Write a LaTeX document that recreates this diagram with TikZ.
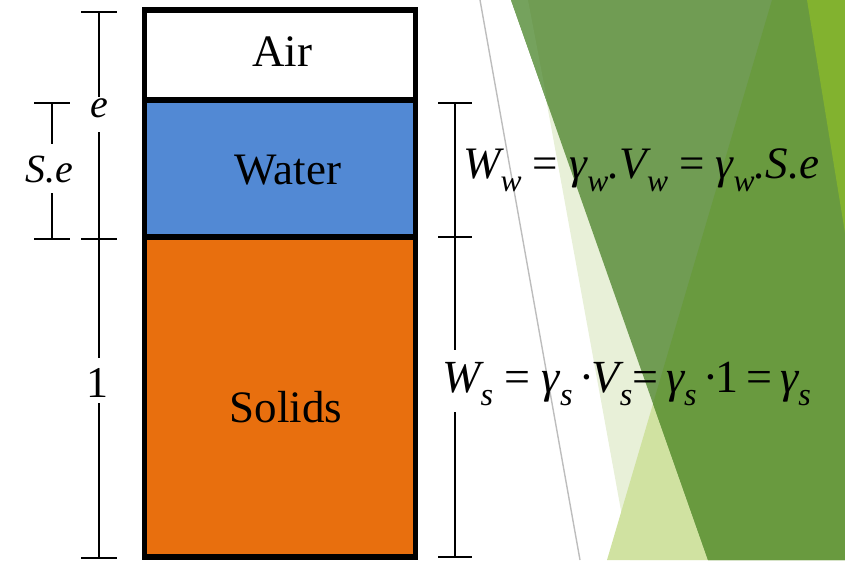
\documentclass[tikz,border=0pt]{standalone}
\usepackage{fontspec}
\usepackage{graphicx}
\setmainfont{Liberation Serif}
\definecolor{waterclr}{HTML}{5289D4}
\definecolor{solidclr}{HTML}{E86F0E}
\definecolor{paleA}{HTML}{E8F0D8}
\definecolor{paleB}{HTML}{D0E2A1}
\definecolor{gmain}{HTML}{709C53}
\definecolor{gdark}{HTML}{699A3F}
\definecolor{glight}{HTML}{75A25D}
\definecolor{gbright}{HTML}{82B22F}
\definecolor{grayline}{HTML}{BDBDBD}
\newcommand{\subx}[1]{\raisebox{-0.3em}{\scalebox{0.7}{\itshape #1}}}
\begin{document}
\begin{tikzpicture}[x=1pt,y=-1pt,
  dimline/.style={line width=2pt},
  boxline/.style={line width=5.5pt},
  boxtext/.style={inner sep=0pt,anchor=base,font=\fontsize{45}{45}\selectfont},
  dimtext/.style={inner sep=0pt,anchor=base,font=\fontsize{40}{40}\selectfont\itshape},
  formula/.style={inner sep=0pt,anchor=base west}]
\useasboundingbox (0,0) rectangle (845,560);
% background facets
\fill[paleA] (528,0) -- (845,0) -- (845,560) -- (630,560) -- cycle;
\fill[paleB] (772,0) -- (845,0) -- (845,560) -- (607,560) -- cycle;
\fill[gmain] (511,0) -- (845,0) -- (845,560) -- (708,560) -- cycle;
\fill[gdark] (772,0) -- (845,0) -- (845,560) -- (708,560) -- (653,403.6) -- cycle;
\fill[glight] (511,0) -- (528,0) -- (548,105) -- cycle;
\fill[gbright] (807,0) -- (845,0) -- (845,233) -- cycle;
\draw[grayline, line width=1.4pt] (480,0) -- (580,560);
% phase box
\fill[white] (144.5,10) rectangle (415.5,100);
\fill[waterclr] (144.5,100) rectangle (415.5,237);
\fill[solidclr] (144.5,237) rectangle (415.5,557);
\draw[boxline] (144.5,10) rectangle (415.5,557);
\draw[boxline] (144.5,100) -- (415.5,100);
\draw[boxline] (144.5,237) -- (415.5,237);
\node[boxtext] (air) at (282,66) {Air};
\node[boxtext] (water) at (288,184) {Water};
\node[boxtext] (solids) at (286,422) {Solids};
% left outer dimension
\coordinate (o1) at (99,12); \coordinate (o2) at (99,97);
\coordinate (o3) at (99,132); \coordinate (o4) at (99,358);
\coordinate (o5) at (99,403); \coordinate (o6) at (99,558);
\coordinate (om) at (99,239);
\draw[dimline] ([xshift=-18pt]o1) -- ([xshift=18pt]o1);
\draw[dimline] ([xshift=-18pt]om) -- ([xshift=18pt]om);
\draw[dimline] ([xshift=-18pt]o6) -- ([xshift=18pt]o6);
\draw[dimline] (o1) -- (o2);
\draw[dimline] (o3) -- (o4);
\draw[dimline] (o5) -- (o6);
\node[dimtext] (le) at (99,117) {e};
\node[dimtext,font=\fontsize{44}{44}\selectfont] (lone) at (97,397) {1};
% left inner dimension
\coordinate (i1) at (52,103); \coordinate (i2) at (52,144);
\coordinate (i3) at (52,193); \coordinate (i4) at (52,239);
\draw[dimline] ([xshift=-18pt]i1) -- ([xshift=18pt]i1);
\draw[dimline] ([xshift=-18pt]i4) -- ([xshift=18pt]i4);
\draw[dimline] (i1) -- (i2);
\draw[dimline] (i3) -- (i4);
\node[dimtext] (lse) at (49,182) {S.e};
% right dimension
\coordinate (r1) at (455,103); \coordinate (rm) at (455,237);
\coordinate (r2) at (455,350); \coordinate (r3) at (455,412);
\coordinate (r4) at (455,557);
\draw[dimline] ([xshift=-17pt]r1) -- ([xshift=17pt]r1);
\draw[dimline] ([xshift=-17pt]rm) -- ([xshift=17pt]rm);
\draw[dimline] ([xshift=-17pt]r4) -- ([xshift=17pt]r4);
\draw[dimline] (r1) -- (r2);
\draw[dimline] (r3) -- (r4);
% formulas
\node[formula,font=\fontsize{45}{45}\selectfont] (fw) at (463,178) {\itshape W\subx{w}\/ \upshape=\itshape\ γ\subx{w}.V\subx{w}\/ \upshape=\itshape\ γ\subx{w}.S.e};
\node[formula,font=\fontsize{46}{46}\selectfont] (fs) at (442,392) {\itshape W\subx{s}\/ \upshape=\itshape\ γ\subx{s}\,·V\subx{s}\upshape=\itshape\,γ\subx{s}\,·\upshape1\,=\,\itshape γ\subx{s}};
\end{tikzpicture}
\end{document}
